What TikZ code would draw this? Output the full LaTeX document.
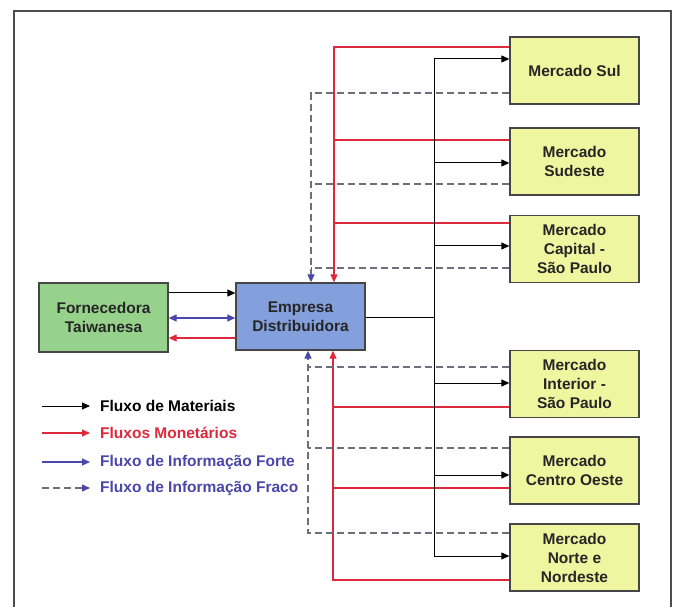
\documentclass[tikz,border=0pt]{standalone}
\usepackage{fontspec}
\setmainfont{Liberation Sans}
\usepackage{xcolor}
\usepackage{tikz}
\usetikzlibrary{arrows.meta, calc}
\definecolor{mkyellow}{RGB}{240,245,160}
\definecolor{fngreen}{RGB}{150,210,140}
\definecolor{empblue}{RGB}{132,160,220}
\definecolor{boxline}{RGB}{70,70,70}
\definecolor{redc}{RGB}{222,40,60}
\definecolor{bluec}{RGB}{75,70,170}
\definecolor{dashc}{RGB}{110,110,125}
\tikzstyle{box}=[draw=boxline, line width=1.3pt, minimum width=129pt, minimum height=67pt, inner sep=0, align=center, font=\bfseries\fontsize{15.5}{19}\selectfont, text=black!85]
\tikzstyle{mercado}=[box, fill=mkyellow]
\tikzstyle{legend}=[anchor=west, inner sep=0, font=\bfseries\fontsize{15.5}{19}\selectfont]
\tikzstyle{mat}=[line width=1pt, -{Triangle[length=8pt,width=7pt]}]
\tikzstyle{money}=[line width=1.1pt, draw=redc]
\tikzstyle{forte}=[line width=1.1pt, draw=bluec]
\tikzstyle{fraco}=[line width=1.3pt, draw=dashc, dash pattern=on 7pt off 4pt]
\tikzstyle{redtip}=[-{Triangle[length=8pt,width=7pt,color=redc]}]
\tikzstyle{bluetip}=[-{Triangle[length=8pt,width=7pt,color=bluec]}]
\newcommand{\YEflow}[4][]{\draw[#1] (#2.west |- 0,#3) -- (#4 |- 0,#3);}
\newcommand{\YEmat}[2]{\draw[mat] (trunk |- 0,#2) -- (#1.west |- 0,#2);}

\begin{document}
\begin{tikzpicture}[x=1pt, y=-1pt]
\clip (0,0) rectangle (673,607);
\draw[line width=1.5pt, draw=black!70] (14,11) rectangle (671,650);

\node[mercado] (sul) at (574.5,70.5) {Mercado Sul};
\node[mercado] (sudeste) at (574.5,161.5) {Mercado\\Sudeste};
\node[mercado] (capital) at (574.5,249) {Mercado\\Capital -\\S\~ao Paulo};
\node[mercado] (interior) at (574.5,384) {Mercado\\Interior -\\S\~ao Paulo};
\node[mercado] (centro) at (574.5,470.5) {Mercado\\Centro Oeste};
\node[mercado] (norte) at (574.5,557.5) {Mercado\\Norte e\\Nordeste};
\node[box, fill=fngreen, minimum height=69pt] (forn) at (103.5,317.5) {Fornecedora\\Taiwanesa};
\node[box, fill=empblue] (emp) at (300.5,316.5) {Empresa\\Distribuidora};

\coordinate (rup) at ([xshift=33.5pt]emp.north);
\coordinate (dup) at ([xshift=10.5pt]emp.north);
\coordinate (rdn) at ([xshift=32.5pt]emp.south);
\coordinate (ddn) at ([xshift=7.5pt]emp.south);
\coordinate (trunk) at (434,317);

\draw[money, redtip] (sul.west |- 0,47) -| (rup);
\YEflow[money]{sudeste}{140}{rup}
\YEflow[money]{capital}{223}{rup}
\draw[fraco, bluetip] (sul.west |- 0,93) -| (dup);
\YEflow[fraco]{sudeste}{184}{dup}
\YEflow[fraco]{capital}{268}{dup}

\draw[money, redtip] (norte.west |- 0,580) -| (rdn);
\YEflow[money]{interior}{407}{rdn}
\YEflow[money]{centro}{488}{rdn}
\draw[fraco, bluetip] (norte.west |- 0,533) -| (ddn);
\YEflow[fraco]{interior}{367}{ddn}
\YEflow[fraco]{centro}{448}{ddn}

\draw[line width=1pt] (emp.east |- trunk) -- (trunk);
\draw[line width=1pt] (trunk |- 0,59) -- (trunk |- 0,556);
\YEmat{sul}{59}
\YEmat{sudeste}{163}
\YEmat{capital}{246}
\YEmat{interior}{383}
\YEmat{centro}{475}
\YEmat{norte}{556}

\draw[mat] (forn.east |- 0,293) -- (emp.west |- 0,293);
\draw[forte, {Triangle[length=8pt,width=7pt]}-{Triangle[length=8pt,width=7pt]}] (forn.east |- 0,318) -- (emp.west |- 0,318);
\draw[money, redtip] (emp.west |- 0,338) -- (forn.east |- 0,338);

\node[legend] (lmat) at (100,406) {Fluxo de Materiais};
\node[legend, text=redc] (lmon) at (100,433) {Fluxos Monet\'arios};
\node[legend, text=bluec] (lfor) at (100,462) {Fluxo de Informa\c{c}\~ao Forte};
\node[legend, text=bluec] (lfra) at (100,488) {Fluxo de Informa\c{c}\~ao Fraco};
\coordinate (smat) at (42,406);
\coordinate (smon) at (42,433);
\coordinate (sfor) at (42,462);
\coordinate (sfra) at (42,488);
\draw[mat] (smat) -- ([xshift=-10pt]lmat.west);
\draw[money, redtip] (smon) -- ([xshift=-10pt]lmon.west);
\draw[forte, bluetip] (sfor) -- ([xshift=-10pt]lfor.west);
\draw[fraco, bluetip] (sfra) -- ([xshift=-10pt]lfra.west);
\end{tikzpicture}
\end{document}
